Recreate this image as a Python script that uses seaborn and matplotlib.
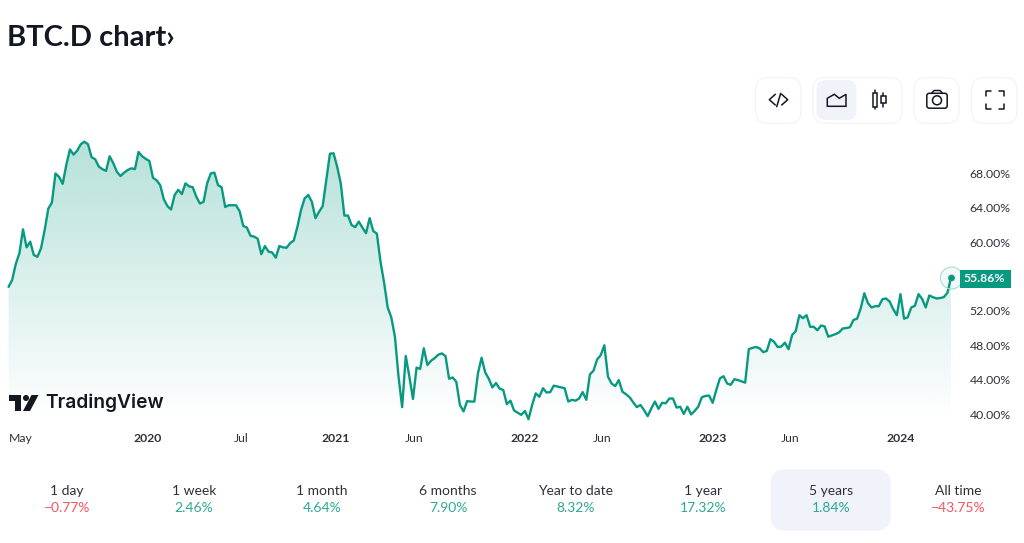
import numpy as np
import pandas as pd
import seaborn as sns
import matplotlib.pyplot as plt
from matplotlib.colors import LinearSegmentedColormap
from matplotlib.patches import FancyBboxPatch, Circle, Polygon, Rectangle

# weekly BTC.D values
vals_2019_21 = [54.8,55.6,57.46,58.7,61.5,59.4,60.06,58.5,58.3,59.3,
                61.4,63.9,64.6,68.0,67.6,66.8,69.0,70.8,70.2,70.65,
                71.4,71.7,71.4,69.9,69.65,68.8,68.5,68.3,70.0,69.2,
                68.2,67.7,68.1,68.4,68.6,68.5,70.5,70.0,69.7,69.45,
                67.5,67.2,66.65,65.0,64.2,63.8,65.5,66.1,65.6,66.85,
                66.5,66.4,65.3,64.5,64.7,66.85,68.0,68.1,66.65,66.4,
                64.1,64.3,64.3,64.3,63.6,61.9,61.7,60.75,60.65,60.4,
                58.6,59.55,58.9,58.8,58.2,59.55,59.4,59.35,59.9,60.2,
                61.8,63.75,65.1,65.5,64.7,62.8,63.55,64.2,67.25,70.3,
                70.35,68.8,66.85,63.1,63.1,62.0,61.75,62.4,61.7,61.05,
                62.8,61.3,61.0,57.75,55.3]
vals_2021_22 = [52.4,51.25,49.0,44.35,40.8,46.75,44.35,41.75,45.4,45.25,
                47.65,45.7,46.2,46.5,46.9,47.05,46.75,44.1,44.25,43.75,
                41.05,40.3,41.5,41.45,41.45,44.75,46.55,44.85,44.1,43.1,
                43.6,42.95,42.8,41.15,41.55,40.4,40.15,39.9,40.35,39.4,
                41.05,42.4,42.0,43.0,42.5,42.55,43.3,43.2,43.1,43.0,
                41.45,41.65,41.55,41.8,42.55,41.65,44.6,45.05,46.35,46.85,
                48.0,44.35,43.55,43.25,43.95,42.6,42.3,41.95,41.35,40.8,
                41.05,40.45,39.75,40.65,41.45,40.6,41.3,41.25,41.8,41.8,
                40.75,40.85]
vals_2023_24 = [40.0,40.85,39.95,40.35,40.85,41.95,42.1,42.15,41.3,42.8,
                44.15,44.4,43.55,43.4,44.05,43.95,43.8,43.65,47.55,47.7,
                47.8,47.65,47.2,47.35,48.7,48.4,47.8,47.85,48.3,47.55,
                49.2,49.65,51.5,51.15,51.5,50.15,50.15,49.75,50.3,50.2,
                49.0,49.15,49.3,49.5,49.95,50.0,50.1,50.95,51.1,52.3,
                54.05,52.9,52.4,52.55,52.55,53.35,53.45,53.1,52.2,51.5,
                53.95,51.1,51.25,52.4,52.6,53.95,53.4,52.4,53.8,53.6,
                53.45,53.5,53.6,54.1,55.86]

y_ticks = [40, 44, 48, 52, 60, 64, 68]
x_tick_dates = ['2019-05-01','2020-01-01','2020-07-01','2021-01-01','2021-06-01',
                '2022-01-01','2022-06-01','2023-01-01','2023-06-01','2024-01-01']
x_tick_labels = ['May','2020','Jul','2021','Jun','2022','Jun','2023','Jun','2024']

periods = ['1 day','1 week','1 month','6 months','Year to date','1 year','5 years','All time']
changes = ['−0.77%','2.46%','4.64%','7.90%','8.32%','17.32%','1.84%','−43.75%']

GREEN = '#089981'
RED = '#F23645'
DARK = '#131722'
GREY = '#2E3238'
BTN = '#F0F3FA'

sns.set_theme(style='white')
plt.rcParams['font.family'] = ['Lato', 'DejaVu Sans']

values = vals_2019_21 + vals_2021_22 + vals_2023_24
dates = pd.date_range(end='2024-04-07', periods=len(values), freq='W')
df = pd.DataFrame({'date': dates, 'value': values})

W, H = 1024, 543
fig = plt.figure(figsize=(W/100, H/100), dpi=100, facecolor='white')

## main chart
ax = fig.add_axes([7/W, 1-425/H, (951-7)/W, (425-130)/H])
ax.patch.set_alpha(0)
ax.fill_between(df['date'], df['value'], 30, color='none')
poly = ax.collections[0]
cmap = LinearSegmentedColormap.from_list('fade', [(8/255,153/255,129/255,0.30),
                                                  (8/255,153/255,129/255,0.0)])
grad = np.linspace(0, 1, 256).reshape(-1, 1)
xlim = (pd.Timestamp('2019-04-04'), pd.Timestamp('2024-04-07'))
img = ax.imshow(grad, cmap=cmap, aspect='auto', zorder=1,
                extent=[pd.Timestamp('2019-04-01'), pd.Timestamp('2024-04-10'), 39.3, 72.2])
img.set_clip_path(poly.get_paths()[0], ax.transData)

sns.lineplot(data=df, x='date', y='value', ax=ax, color=GREEN, linewidth=1.7, zorder=3)
ax.set_xlim(xlim)
ax.set_ylim(38.72, 73.06)
ax.set_xlabel('')
ax.set_ylabel('')
sns.despine(ax=ax, left=True, bottom=True, right=True, top=True)

ax.yaxis.tick_right()
ax.set_yticks(y_ticks)
ax.set_yticklabels([f'{v:.2f}%' for v in y_ticks])
ax.tick_params(axis='y', length=0, pad=13.5, labelsize=8.8, labelcolor=GREY)
ax.set_xticks(pd.to_datetime(x_tick_dates))
ax.set_xticklabels(x_tick_labels)
ax.tick_params(axis='x', length=0, pad=6, labelsize=8.8, labelcolor=GREY)
for lab in ax.get_xticklabels():
    if lab.get_text().isdigit():
        lab.set_fontweight('bold')

## overlay in pixel coordinates for the widget parts
ov = fig.add_axes([0, 0, 1, 1], zorder=5)
ov.set_xlim(0, W)
ov.set_ylim(H, 0)
ov.axis('off')
ov.patch.set_alpha(0)

def button(x0, y0, x1, y1, r=12, fc='white', ec='#F0F2F5'):
    ov.add_patch(FancyBboxPatch((x0+r, y0+r), x1-x0-2*r, y1-y0-2*r,
                                boxstyle=f'round,pad={r},rounding_size={r}',
                                fc=fc, ec=ec, lw=0.8))

def stroke(pts, lw=1.1, color=DARK):
    xs, ys = zip(*pts)
    ov.plot(xs, ys, color=color, lw=lw, solid_capstyle='round', solid_joinstyle='round')

ov.text(7, 37.5, 'BTC.D chart›', fontsize=21, fontweight='bold', color=DARK, va='center')

button(755.7, 77.7, 801, 123.3)
button(813, 77.7, 902, 123.3)
button(817, 80.7, 856, 119.3, r=8, fc=BTN, ec=BTN)
button(914, 77.7, 959, 123.3)
button(971.7, 77.7, 1017, 123.3)

# code icon
stroke([(775.3,94.3),(769.3,99.7),(775.3,105)])
stroke([(781.7,94.3),(787.7,99.7),(781.7,105)])
stroke([(780.7,93.3),(776.7,106.7)])
# area icon
ov.add_patch(Polygon([(827.3,106.3),(827.3,98.3),(834.3,94.3),(839.3,98.3),(846,94.3),(846,106.3)],
                     closed=True, fc='none', ec=DARK, lw=1.1))
# candle icon
stroke([(875.3,90),(875.3,109.3)])
stroke([(883.3,93.3),(883.3,106.7)])
ov.add_patch(Rectangle((873.3,93.3), 4, 13.4, fc='white', ec=DARK, lw=1.1, zorder=4))
ov.add_patch(Rectangle((881.3,96), 4.2, 7.3, fc='white', ec=DARK, lw=1.1, zorder=4))
# camera icon
ov.add_patch(FancyBboxPatch((929,95.5), 16, 10.5, boxstyle='round,pad=2.2,rounding_size=2.5',
                            fc='none', ec=DARK, lw=1.1))
stroke([(931.5,93.3),(934,90.5),(940,90.5),(942.5,93.3)])
ov.add_patch(Circle((937,100.3), 4.5, fc='none', ec=DARK, lw=1.1))
# fullscreen icon
stroke([(985.7,96),(985.7,90.5),(991,90.5)])
stroke([(999,90.5),(1004.3,90.5),(1004.3,96)])
stroke([(985.7,103.5),(985.7,109),(991,109)])
stroke([(999,109),(1004.3,109),(1004.3,103.5)])

# last value marker and pill
ov.add_patch(Circle((951.5,278), 11, fc=(8/255,153/255,129/255,0.05), ec='#A8DBD1', lw=0.8))
ov.add_patch(Circle((951.5,278), 3, fc=GREEN, ec=GREEN, lw=0.5))
ov.add_patch(Rectangle((960,270), 51, 18, fc=GREEN, ec='none'))
ov.text(1005.5, 279, f'{values[-1]:.2f}%', color='white', fontsize=8.8, fontweight='bold',
        ha='right', va='center')

# TradingView watermark
ov.add_patch(Polygon([(9,395),(21,395),(21,411),(15,411),(15,401),(9,401)], closed=True, fc=DARK, ec='none'))
ov.add_patch(Circle((26,398), 3, fc=DARK, ec='none'))
ov.add_patch(Polygon([(31.5,395),(38.5,395),(30,411),(23,411)], closed=True, fc=DARK, ec='none'))
ov.text(45.5, 402.5, 'TradingView', fontsize=13.8, fontweight='semibold', color=DARK,
        va='center', family=['Inter', 'DejaVu Sans'])

# period performance row
centres = [67, 194, 322, 448, 576, 703, 831, 958]
button(771, 470, 890, 530, r=14, fc=BTN, ec=BTN)
for cx, p, c in zip(centres, periods, changes):
    ov.text(cx, 491, p, fontsize=10, color=GREY, ha='center', va='center')
    col = RED if c.startswith('−') else GREEN
    ov.text(cx, 508.5, c, fontsize=10, color=col, alpha=0.85, ha='center', va='center')

fig.savefig('out.png', dpi=100)
